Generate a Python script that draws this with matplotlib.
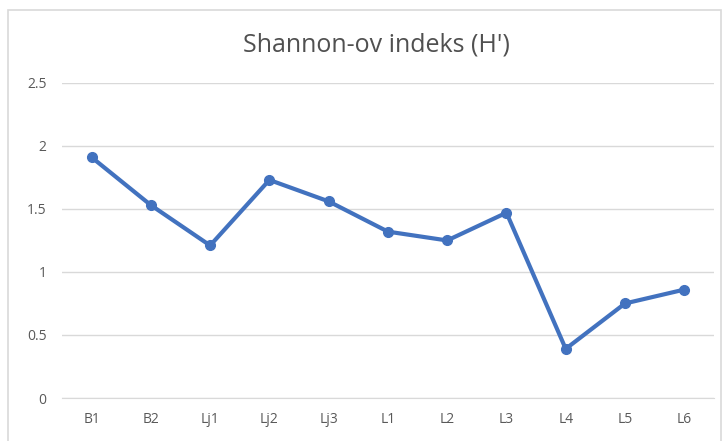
import matplotlib.pyplot as plt
from matplotlib.patches import Rectangle

sites = ["B1", "B2", "Lj1", "Lj2", "Lj3", "L1", "L2", "L3", "L4", "L5", "L6"]
shannon = [1.91, 1.53, 1.21, 1.73, 1.56, 1.32, 1.25, 1.47, 0.39, 0.75, 0.86]
y_ticks = [0, 0.5, 1, 1.5, 2, 2.5]
y_tick_labels = ["0", "0.5", "1", "1.5", "2", "2.5"]

plt.rcParams["font.family"] = ["Open Sans", "DejaVu Sans"]

fig = plt.figure(figsize=(7.24, 4.41), dpi=100)
fig.patches.append(Rectangle((0.011, -0.01), 0.985, 0.987, transform=fig.transFigure,
                             fill=False, edgecolor="#d9d9d9", linewidth=1.2))

ax = fig.add_axes([0.0856, 0.0975, 0.9004, 0.7145])
xs = list(range(len(sites)))
ax.plot(xs, shannon, color="#4272bf", linewidth=3, marker="o", markersize=7,
        solid_joinstyle="round")

ax.set_xlim(-0.5, len(sites) - 0.5)
ax.set_ylim(0, 2.5)
ax.set_yticks(y_ticks)
ax.set_yticklabels(y_tick_labels)
ax.set_xticks(xs)
ax.set_xticklabels(sites)
ax.tick_params(length=0, colors="#595959", labelsize=10)
ax.tick_params(axis="y", pad=11)
ax.tick_params(axis="x", pad=10)
ax.grid(axis="y", color="#d9d9d9", linewidth=1)
ax.set_axisbelow(True)
for side in ["top", "right", "left"]:
    ax.spines[side].set_visible(False)
ax.spines["bottom"].set_color("#d9d9d9")

fig.text(0.52, 0.897, "Shannon-ov indeks (H')", ha="center", va="center",
         fontsize=18, color="#505050")

fig.savefig("out.png", dpi=100)
